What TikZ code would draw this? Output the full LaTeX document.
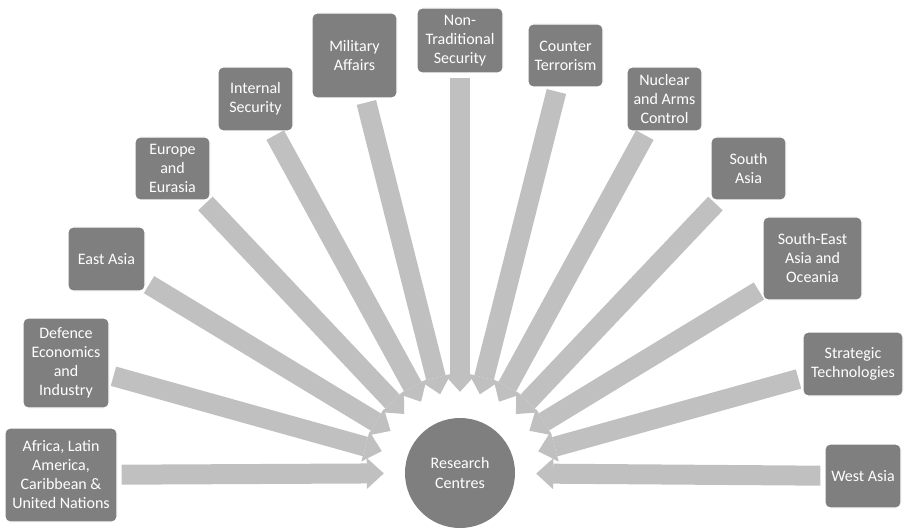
\documentclass[tikz,border=0pt]{standalone}
\usepackage{fontspec}
\setmainfont{Carlito}
\usetikzlibrary{arrows.meta,calc}
\definecolor{boxgray}{HTML}{7F7F7F}
\definecolor{arrowgray}{HTML}{C0C0C0}
\tikzset{
  topic/.style={draw=white, line width=1.2pt, fill=boxgray, rounded corners=5pt,
    text=white, align=center, font=\fontsize{16}{19}\selectfont, inner sep=0pt},
  hub/.style={circle, fill=boxgray, text=white, align=center,
    font=\fontsize{16}{20}\selectfont, minimum size=110pt, inner sep=0pt},
  fatarrow/.style={draw=arrowgray, line width=20pt,
    -{Triangle[width=31pt,length=17pt,line width=0pt]},
    shorten <=4pt, shorten >=26pt},
  flatarrow/.style={fatarrow, shorten >=21pt}
}
\begin{document}
\begin{tikzpicture}[x=1pt,y=-1pt]
\useasboundingbox (0,0) rectangle (904,529);
\node[hub] (rc) at (460,473) {Research\\Centres};
\node[topic, minimum width=112pt, minimum height=94pt] (afr) at (61,475) {Africa, Latin\\America,\\Caribbean \&\\United Nations};
\node[topic, minimum width=86pt, minimum height=90pt] (def) at (66,363) {Defence\\Economics\\and\\Industry};
\node[topic, minimum width=77pt, minimum height=64pt] (eas) at (106.5,259) {East Asia};
\node[topic, minimum width=75pt, minimum height=63pt] (eur) at (172.5,168.5) {Europe\\and\\Eurasia};
\node[topic, minimum width=75pt, minimum height=64pt] (ins) at (255.5,99) {Internal\\Security};
\node[topic, minimum width=85pt, minimum height=85pt] (mil) at (354.5,55.5) {Military\\Affairs};
\node[topic, minimum width=86pt, minimum height=65pt] (nts) at (460,40.5) {Non-\\Traditional\\Security};
\node[topic, minimum width=75pt, minimum height=63pt] (ctr) at (565.5,55.5) {Counter\\Terrorism};
\node[topic, minimum width=75pt, minimum height=64pt] (nuc) at (664.5,99) {Nuclear\\and Arms\\Control};
\node[topic, minimum width=75pt, minimum height=63pt] (sas) at (748.5,168.5) {South\\Asia};
\node[topic, minimum width=99pt, minimum height=83pt] (sea) at (812.5,258.5) {South-East\\Asia and\\Oceania};
\node[topic, minimum width=100pt, minimum height=64pt] (str) at (853,364) {Strategic\\Technologies};
\node[topic, minimum width=76pt, minimum height=64pt] (was) at (863,476) {West Asia};
\foreach \n in {def,eas,eur,ins,mil,nts,ctr,nuc,sas,sea,str}
  \draw[fatarrow] (\n) -- (rc);
\draw[flatarrow] (afr) -- (rc);
\draw[flatarrow] (was) -- (rc);
\end{tikzpicture}
\end{document}
